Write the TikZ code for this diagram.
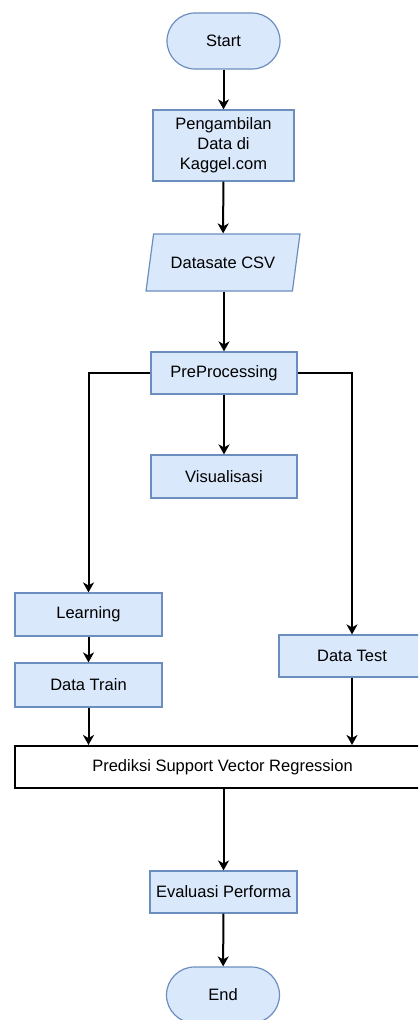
\documentclass[tikz,border=0pt]{standalone}
\usepackage{fontspec}
\setmainfont{Liberation Sans}
\usetikzlibrary{arrows.meta,shapes.geometric}

\definecolor{boxfill}{HTML}{DAE8FC}
\definecolor{boxline}{HTML}{6C8EBF}

\tikzset{
  base/.style={font=\fontsize{16.5}{20}\selectfont, align=center, inner sep=0pt},
  procbox/.style={base, rectangle, draw=boxline, fill=boxfill, line width=1.2pt},
  terminal/.style={base, rectangle, rounded corners=28pt, draw=boxline, fill=boxfill,
                   line width=1.2pt, minimum width=113pt, minimum height=56pt},
  iobox/.style={base, trapezium, trapezium left angle=64, trapezium right angle=116,
                trapezium stretches=true, draw=boxline, fill=boxfill, line width=1.2pt,
                minimum width=154pt, minimum height=57pt},
  mainbox/.style={base, rectangle, draw=black, fill=white, line width=2pt},
  flow/.style={-{Stealth[length=10pt,width=11pt,inset=3pt]}, line width=2pt, black},
}

\begin{document}
\begin{tikzpicture}[x=1pt,y=-1pt]
  \useasboundingbox (0,0) rectangle (418,1020);
  \clip (0,0) rectangle (418,1020);
  \fill[white] (0,0) rectangle (418,1020);

  % main column
  \node[terminal] (start) at (223.5,41) {Start};
  \node[procbox, minimum width=141pt, minimum height=71pt] (fetch) at (223.5,145.5)
    {Pengambilan\\Data di\\Kaggel.com};
  \node[iobox] (csv) at (223,262.5) {Datasate CSV};
  \node[procbox, minimum width=146pt, minimum height=42pt] (pre) at (224,373) {PreProcessing};
  \node[procbox, minimum width=146pt, minimum height=43pt] (vis) at (224,476.5) {Visualisasi};

  % training branch
  \node[procbox, minimum width=147pt, minimum height=43pt] (learn) at (88.5,614.5) {Learning};
  \node[procbox, minimum width=147pt, minimum height=44pt] (train) at (88.5,685) {Data Train};

  % test branch
  \node[procbox, minimum width=146pt, minimum height=42pt] (test) at (352,656) {Data Test};

  % model and evaluation
  \node[mainbox, minimum width=415pt, minimum height=42pt] (svr) at (222.5,767)
    {Prediksi Support Vector Regression};
  \node[procbox, minimum width=147pt, minimum height=42pt] (eval) at (223.5,892) {Evaluasi Performa};
  \node[terminal] (end) at (223,995) {End};

  % connectors
  \draw[flow] (start) -- (fetch);
  \draw[flow] (fetch) -- (csv);
  \draw[flow] (csv.south -| pre.north) -- (pre);
  \draw[flow] (pre) -- (vis);
  \draw[flow] (pre.west) -| (learn.north);
  \draw[flow] (pre.east) -| (test.north);
  \draw[flow] (learn) -- (train);
  \draw[flow] (train.south) -- (train.south |- svr.north);
  \draw[flow] (test.south) -- (test.south |- svr.north);
  \draw[flow] (svr.south -| eval.north) -- (eval);
  \draw[flow] (eval) -- (end);
\end{tikzpicture}
\end{document}
